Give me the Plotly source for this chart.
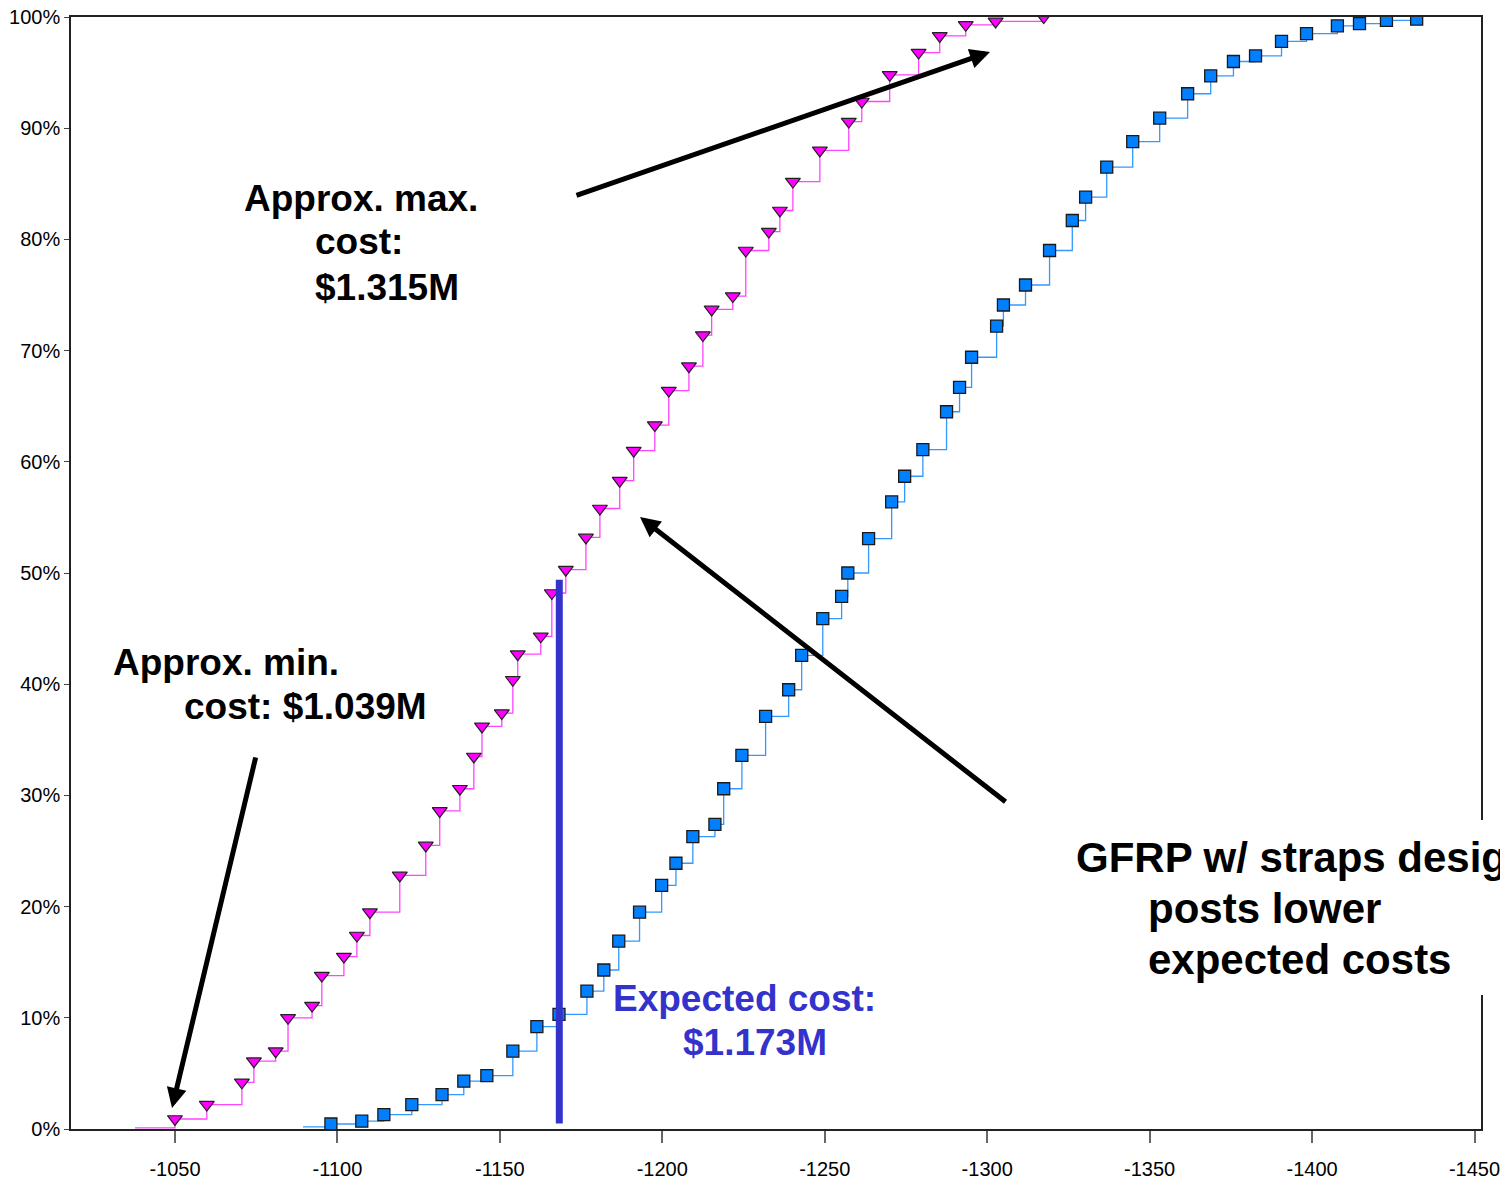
import plotly.graph_objects as go

# --- cumulative cost distributions (cost in $k, shown negative; probability in %) ---
pink_cost = [-1050.0, -1059.8, -1070.6, -1074.3, -1081.0, -1084.8, -1092.2, -1095.2,
             -1102.0, -1106.0, -1110.0, -1119.2, -1127.2, -1131.5, -1137.7, -1142.0,
             -1144.5, -1150.6, -1154.0, -1155.5, -1162.6, -1166.0, -1170.3, -1176.5,
             -1180.8, -1186.9, -1191.2, -1197.7, -1202.0, -1208.2, -1212.5, -1215.2,
             -1221.7, -1225.7, -1232.8, -1236.2, -1240.2, -1248.5, -1257.4, -1261.4,
             -1270.0, -1278.9, -1285.4, -1293.4, -1302.6, -1317.4]
pink_pct = [0.9, 2.2, 4.2, 6.1, 7.0, 10.0, 11.1, 13.8,
            15.5, 17.4, 19.5, 22.8, 25.5, 28.6, 30.6, 33.5,
            36.2, 37.4, 40.4, 42.7, 44.3, 48.2, 50.3, 53.2,
            55.8, 58.3, 61.0, 63.3, 66.4, 68.6, 71.4, 73.7,
            74.9, 79.0, 80.7, 82.6, 85.2, 88.0, 90.6, 92.4,
            94.8, 96.8, 98.3, 99.3, 99.6, 100.0]
pink_start_cost = -1037.7
pink_start_pct = 0.1

blue_cost = [-1098.0, -1107.5, -1114.3, -1122.9, -1132.2, -1138.9, -1146.0, -1154.0,
             -1161.4, -1168.2, -1176.8, -1182.0, -1186.6, -1193.0, -1199.8, -1204.2,
             -1209.4, -1216.2, -1218.9, -1224.5, -1231.8, -1238.9, -1242.9, -1249.4,
             -1255.2, -1257.1, -1263.5, -1270.6, -1274.6, -1280.2, -1287.5, -1291.5,
             -1295.2, -1302.9, -1305.0, -1311.8, -1319.2, -1326.2, -1330.3, -1336.8,
             -1344.8, -1353.1, -1361.7, -1368.8, -1375.8, -1382.6, -1390.6, -1398.3,
             -1407.8, -1414.6, -1422.9, -1432.2]
blue_pct = [0.45, 0.7, 1.3, 2.2, 3.1, 4.3, 4.8, 7.0,
            9.2, 10.3, 12.4, 14.3, 16.9, 19.5, 21.9, 23.9,
            26.3, 27.4, 30.6, 33.6, 37.1, 39.5, 42.6, 45.9,
            47.9, 50.0, 53.1, 56.4, 58.7, 61.1, 64.5, 66.7,
            69.4, 72.2, 74.1, 75.9, 79.0, 81.7, 83.8, 86.5,
            88.8, 90.9, 93.1, 94.7, 96.0, 96.5, 97.8, 98.5,
            99.2, 99.4, 99.7, 99.8]
blue_start_cost = -1089.4
blue_start_pct = 0.2

expected_cost = [-1168.3, -1168.3]
expected_pct = [0.5, 49.4]

x_ticks = [-1050, -1100, -1150, -1200, -1250, -1300, -1350, -1400, -1450]
x_labels = ["-1050", "-1100", "-1150", "-1200", "-1250", "-1300", "-1350", "-1400", "-1450"]
y_ticks = [0, 10, 20, 30, 40, 50, 60, 70, 80, 90, 100]
y_labels = ["0%", "10%", "20%", "30%", "40%", "50%", "60%", "70%", "80%", "90%", "100%"]

FONT = "Liberation Sans, Arial, sans-serif"
W, H = 1500, 1182
L, R, T, B = 71, 19, 17, 53


def paper(x, y):
    # pixel position on the page -> paper coords
    return (x - L) / (W - L - R), (H - B - y) / (H - T - B)


fig = go.Figure()

fig.add_trace(go.Scatter(
    x=[pink_start_cost] + pink_cost, y=[pink_start_pct] + pink_pct,
    mode="lines", line=dict(color="#FF44FF", width=1.3, shape="hv"),
    hoverinfo="skip",
))
fig.add_trace(go.Scatter(
    x=pink_cost, y=pink_pct, mode="markers",
    marker=dict(symbol="triangle-down", size=13, color="#FF00FF",
                line=dict(color="#222222", width=1.2)),
))
fig.add_trace(go.Scatter(
    x=[blue_start_cost] + blue_cost, y=[blue_start_pct] + blue_pct,
    mode="lines", line=dict(color="#3399FF", width=1.3, shape="hv"),
    hoverinfo="skip",
))
fig.add_trace(go.Scatter(
    x=blue_cost, y=blue_pct, mode="markers",
    marker=dict(symbol="square", size=12, color="#0080FF",
                line=dict(color="#1a1a1a", width=1.3)),
))
fig.add_trace(go.Scatter(
    x=expected_cost, y=expected_pct, mode="lines",
    line=dict(color="#3333CC", width=7),
))

# --- text ---
texts = [
    ("Approx. max.", 243, 198, 37, "black"),
    ("cost:", 314, 242, 37, "black"),
    ("$1.315M", 314, 287, 37, "black"),
    ("Approx. min.", 112, 662, 37, "black"),
    ("cost: $1.039M", 183, 706, 37, "black"),
    ("Expected cost:", 612, 998, 37, "#3333CC"),
    ("$1.173M", 682, 1042, 37, "#3333CC"),
    ("GFRP w/ straps design", 1075, 857, 42, "black"),
    ("posts lower", 1147, 908, 42, "black"),
    ("expected costs", 1147, 960, 42, "black"),
]
annotations = []
for txt, tx, ty, size, color in texts:
    ax_, ay_ = paper(tx, ty)
    annotations.append(dict(
        text=txt, x=ax_, y=ay_, xref="paper", yref="paper",
        xanchor="left", yanchor="middle", showarrow=False, borderpad=0,
        font=dict(family=FONT, size=size, color=color, weight="bold"),
    ))

# --- arrows (tip, tail in page pixels) ---
arrows = [((990, 52), (575, 196)),
          ((640, 517), (1007, 803)),
          ((172, 1108), (256, 756))]
for (hx, hy), (tx, ty) in arrows:
    x0, y0 = paper(hx, hy)
    annotations.append(dict(
        text="", x=x0, y=y0, xref="paper", yref="paper",
        ax=tx - hx, ay=ty - hy, axref="pixel", ayref="pixel",
        showarrow=True, arrowhead=2, arrowsize=0.8, arrowwidth=5,
        arrowcolor="black", standoff=0,
    ))

# white box behind the GFRP note (hides part of the right border)
bx0, by0 = paper(1065, 995)
bx1, by1 = paper(1500, 820)

fig.update_layout(
    width=W, height=H,
    margin=dict(l=L, r=R, t=T, b=B, autoexpand=False),
    paper_bgcolor="white", plot_bgcolor="white",
    showlegend=False,
    font=dict(family=FONT, color="black"),
    annotations=annotations,
    shapes=[dict(type="rect", xref="paper", yref="paper",
                 x0=bx0, x1=bx1, y0=by0, y1=by1,
                 fillcolor="white", line=dict(width=0), layer="above")],
    xaxis=dict(
        range=[-1018, -1452], tickvals=x_ticks, ticktext=x_labels,
        ticks="outside", ticklen=12, automargin=False,
        ticklabelstandoff=9, ticklabeloverflow="allow",
        tickcolor="#666666", tickwidth=1.5, showgrid=False, zeroline=False,
        showline=True, linecolor="#222222", linewidth=1.5, mirror=True,
        tickfont=dict(size=20, color="black"),
    ),
    yaxis=dict(
        range=[0, 100], tickvals=y_ticks, ticktext=y_labels,
        ticks="outside", ticklen=5, automargin=False,
        tickcolor="#444444", showgrid=False, zeroline=False,
        showline=True, linecolor="#222222", linewidth=1.5, mirror=True,
        tickfont=dict(size=20, color="black"),
    ),
)

fig.write_html("out.html", config={"displayModeBar": False},
               post_script="document.body.style.margin='0';")
